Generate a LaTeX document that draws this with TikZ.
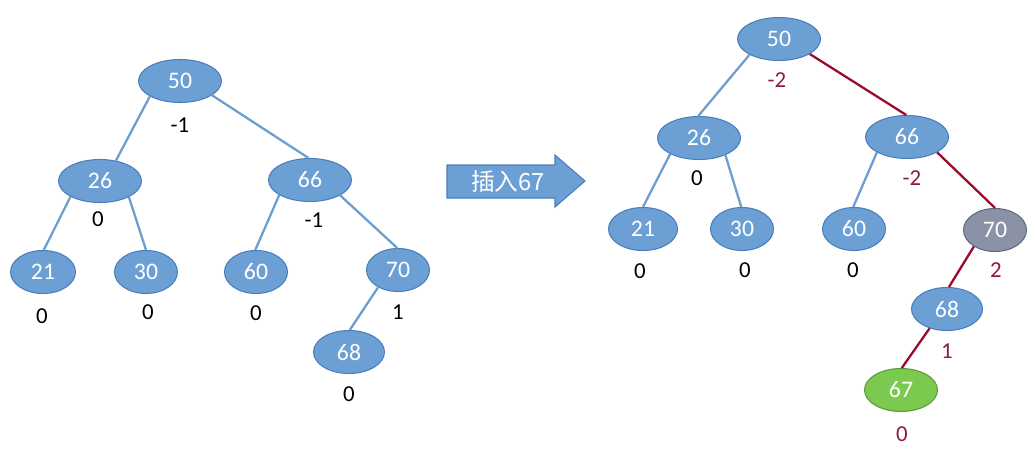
\documentclass[tikz,border=0pt]{standalone}
\usepackage{fontspec}
\setmainfont{Carlito}
\newfontfamily\cjk{Noto Sans CJK SC}
\usetikzlibrary{shapes.geometric}
\definecolor{nodeblue}{HTML}{6CA0D5}
\definecolor{nodeedge}{HTML}{4A7EBB}
\definecolor{linkblue}{HTML}{6A9FD0}
\definecolor{linkred}{HTML}{9B0A2B}
\definecolor{labred}{HTML}{8E1B3C}
\definecolor{greyfill}{HTML}{8C92A5}
\definecolor{greyedge}{HTML}{5E6A80}
\definecolor{greenfill}{HTML}{7CC950}
\definecolor{greenedge}{HTML}{5B9B3A}
\tikzset{
  tnode/.style={ellipse, fill=nodeblue, draw=nodeedge, line width=0.6pt, inner sep=0pt,
    minimum height=0.86cm, text=white, font=\fontsize{13.5}{15}\selectfont},
  wide/.style={minimum width=1.66cm},
  w66/.style={minimum width=1.30cm},
  w64/.style={minimum width=1.26cm},
  w72/.style={minimum width=1.42cm},
  w74/.style={minimum width=1.46cm},
  bal/.style={inner sep=0pt, font=\fontsize{13}{15}\selectfont},
  balred/.style={bal, text=labred},
  blink/.style={draw=linkblue, line width=1.3pt},
  rlink/.style={draw=linkred, line width=1.3pt},
}
\begin{document}
\begin{tikzpicture}[x=0.02cm, y=-0.02cm]
\useasboundingbox (0,0) rectangle (1033,456);
% ---- left tree ----
\node[tnode, wide] (L50) at (180,81) {50};
\node[tnode, wide] (L26) at (100,181) {26};
\node[tnode, wide] (L66) at (310,180) {66};
\node[tnode, w66] (L21) at (43,272) {21};
\node[tnode, w64] (L30) at (146,272) {30};
\node[tnode, w64] (L60) at (256,272) {60};
\node[tnode, w64] (L70) at (398,270) {70};
\node[tnode, w72] (L68) at (349,352) {68};
\node[bal] (bL50) at (180,125) {-1};
\node[bal] (bL26) at (98,219) {0};
\node[bal] (bL66) at (314,220) {-1};
\node[bal] (bL21) at (42,316) {0};
\node[bal] (bL30) at (148,312) {0};
\node[bal] (bL60) at (256,313) {0};
\node[bal] (bL70) at (398,312) {1};
\node[bal] (bL68) at (349,394) {0};
\draw[blink] (L50.207) -- (L26.52);
\draw[blink] (L50.336) -- (L66.94);
\draw[blink] (L26.208) -- (L21.88);
\draw[blink] (L26.331) -- (L30.90);
\draw[blink] (L66.206) -- (L60.92);
\draw[blink] (L66.333) -- (L70.92);
\draw[blink] (L70.221) -- (L68.88);
% ---- arrow ----
\path[fill=nodeblue, draw=nodeedge, line width=0.6pt]
  (447,165) -- (555,165) -- (555,155) -- (585,181) -- (555,207) -- (555,198) -- (447,198) -- cycle;
\node[inner sep=0pt, text=white, font=\cjk\fontsize{13.5}{15}\selectfont] (ins) at (508,181) {插入67};
% ---- right tree ----
\node[tnode, wide] (R50) at (779,39) {50};
\node[tnode, wide] (R26) at (699,138) {26};
\node[tnode, wide] (R66) at (907,137) {66};
\node[tnode, minimum width=1.38cm] (R21) at (643,229) {21};
\node[tnode, w64] (R30) at (742,229) {30};
\node[tnode, w64] (R60) at (854,229) {60};
\node[tnode, w64, fill=greyfill, draw=greyedge] (R70) at (995,230) {70};
\node[tnode, w72] (R68) at (947,309) {68};
\node[tnode, w74, fill=greenfill, draw=greenedge] (R67) at (901,390) {67};
\node[balred] (bR50) at (777,80) {-2};
\node[bal] (bR26) at (697,178) {0};
\node[balred] (bR66) at (912,178) {-2};
\node[bal] (bR21) at (640,271) {0};
\node[bal] (bR30) at (745,270) {0};
\node[bal] (bR60) at (853,270) {0};
\node[balred] (bR70) at (996,270) {2};
\node[balred] (bR68) at (947,351) {1};
\node[balred] (bR67) at (902,434) {0};
\draw[blink] (R50.208) -- (R26.92);
\draw[rlink] (R50.334) -- (R66.92);
\draw[blink] (R26.209) -- (R21.90);
\draw[blink] (R26.327) -- (R30.92);
\draw[blink] (R66.207) -- (R60.92);
\draw[rlink] (R66.333) -- (R70.90);
\draw[rlink] (R70.218) -- (R68.85);
\draw[rlink] (R68.228) -- (R67.88);
\end{tikzpicture}
\end{document}
